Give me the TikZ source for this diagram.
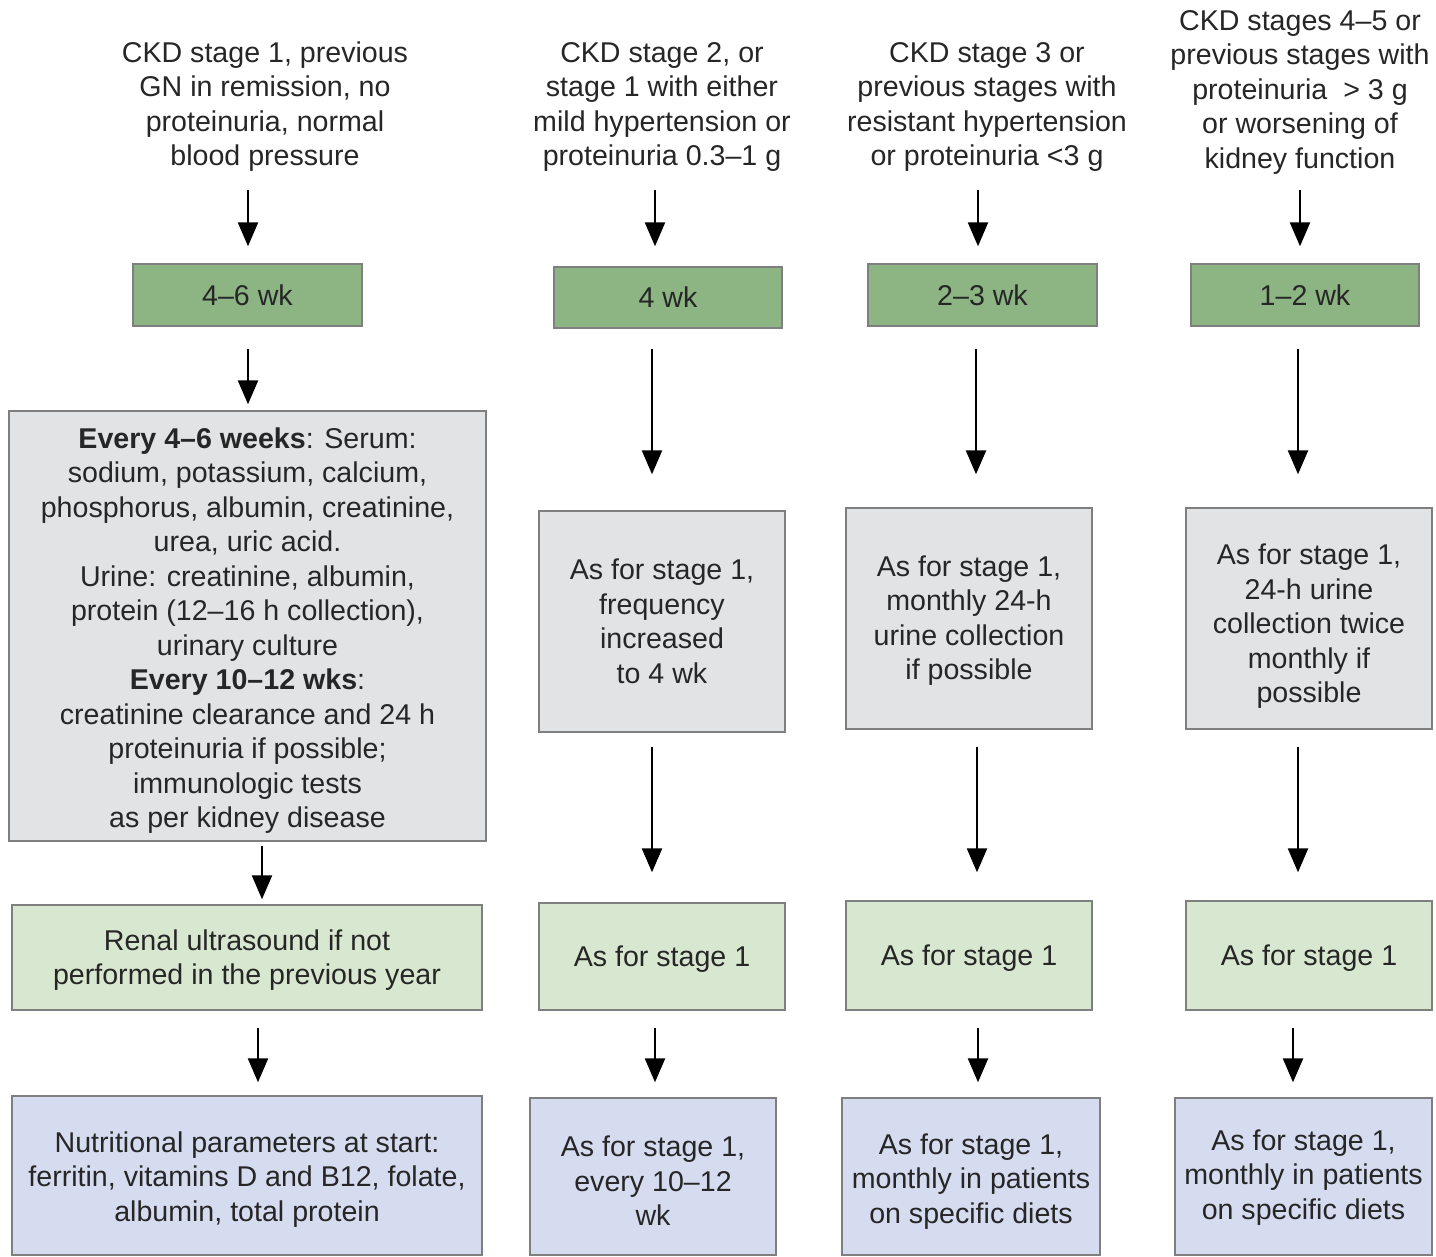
\documentclass[tikz,border=0pt]{standalone}
\usepackage{fontspec}
\setmainfont{Liberation Sans}
\usetikzlibrary{arrows.meta}

\definecolor{ink}{HTML}{262626}
\definecolor{wkgreen}{HTML}{8DB583}
\definecolor{lightgreen}{HTML}{D8E8D0}
\definecolor{testgray}{HTML}{E2E3E5}
\definecolor{nutblue}{HTML}{D5DCF0}
\definecolor{edge}{HTML}{7F7F7F}

% invisible strut that lowers a centred text block a little
\newcommand\lowerby[1]{\rule{0pt}{\dimexpr 10.4pt+#1\relax}}

\tikzset{
  txt/.style={font=\fontsize{14.3pt}{17.25pt}\selectfont, text=ink, align=center, inner sep=0pt},
  box/.style={txt, draw=edge, line width=0.7pt, inner sep=2pt},
  wkbox/.style={box, fill=wkgreen},
  testbox/.style={box, fill=testgray},
  usbox/.style={box, fill=lightgreen},
  nutbox/.style={box, fill=nutblue},
  arr/.style={line width=1.2pt, -{Triangle[width=10pt,length=12pt]}}
}

\begin{document}
\begin{tikzpicture}[x=0.5pt, y=-0.5pt]
  \useasboundingbox (0,0) rectangle (1436,1257);
  \fill[white] (0,0) rectangle (1436,1257);

  % ---------- column 1: stage 1 ----------
  \node[txt] (h1) at (265,106.75) {CKD stage 1, previous\\GN in remission, no\\proteinuria, normal\\blood pressure};
  \node[wkbox, minimum width=114.5pt, minimum height=31pt] (g1) at (247.5,295) {4–6 wk};
  \node[testbox, minimum width=238.5pt, minimum height=215pt] (s1) at (247.5,626)
    {\lowerby{4.5pt}\textbf{Every 4–6 weeks}: Serum:\\sodium, potassium, calcium,\\phosphorus, albumin, creatinine,\\urea, uric acid.\\Urine: creatinine, albumin,\\protein (12–16 h collection),\\urinary culture\\\textbf{Every 10–12 wks}:\\creatinine clearance and 24 h\\proteinuria if possible;\\immunologic tests\\as per kidney disease};
  \node[usbox, minimum width=235pt, minimum height=52.5pt] (u1) at (247,957.5) {\lowerby{2.5pt}Renal ultrasound if not\\performed in the previous year};
  \node[nutbox, minimum width=235pt, minimum height=79.5pt] (n1) at (247,1175.5) {\lowerby{4pt}Nutritional parameters at start:\\ferritin, vitamins D and B12, folate,\\albumin, total protein};

  % ---------- column 2: stage 2 ----------
  \node[txt] (h2) at (662,106.75) {CKD stage 2, or\\stage 1 with either\\mild hypertension or\\proteinuria 0.3–1 g};
  \node[wkbox, minimum width=114pt, minimum height=30.5pt] (g2) at (668,297.5) {4 wk};
  \node[testbox, minimum width=123pt, minimum height=110.5pt] (s2) at (662,621.5) {As for stage 1,\\frequency\\increased\\to 4 wk};
  \node[usbox, minimum width=123pt, minimum height=53.5pt] (u2) at (662,956.5) {\lowerby{3pt}As for stage 1};
  \node[nutbox, minimum width=123pt, minimum height=78.5pt] (n2) at (653,1176.5) {\lowerby{4.5pt}As for stage 1,\\every 10–12\\wk};

  % ---------- column 3: stage 3 ----------
  \node[txt] (h3) at (987,106.75) {CKD stage 3 or\\previous stages with\\resistant hypertension\\or proteinuria <3 g};
  \node[wkbox, minimum width=114.5pt, minimum height=31pt] (g3) at (982.5,295) {2–3 wk};
  \node[testbox, minimum width=123pt, minimum height=110.5pt] (s3) at (969,618.5) {\lowerby{2pt}As for stage 1,\\monthly 24-h\\urine collection\\if possible};
  \node[usbox, minimum width=123pt, minimum height=54.5pt] (u3) at (969,955.5) {\lowerby{3pt}As for stage 1};
  \node[nutbox, minimum width=129pt, minimum height=78.5pt] (n3) at (971,1176.5) {\lowerby{5pt}As for stage 1,\\monthly in patients\\on specific diets};

  % ---------- column 4: stages 4-5 ----------
  \node[txt] (h4) at (1300,92) {CKD stages 4–5 or\\previous stages with\\proteinuria\ \ > 3 g\\or worsening of\\kidney function};
  \node[wkbox, minimum width=114pt, minimum height=31pt] (g4) at (1305,295) {1–2 wk};
  \node[testbox, minimum width=123pt, minimum height=110.5pt] (s4) at (1309,618.5) {\lowerby{8pt}As for stage 1,\\24-h urine\\collection twice\\monthly if\\possible};
  \node[usbox, minimum width=123pt, minimum height=54.5pt] (u4) at (1309,955.5) {\lowerby{3pt}As for stage 1};
  \node[nutbox, minimum width=128.5pt, minimum height=78.5pt] (n4) at (1303.5,1176.5) {\lowerby{1pt}As for stage 1,\\monthly in patients\\on specific diets};

  % ---------- arrows ----------
  \draw[arr] ([shift={(-17,18)}]h1.south) -- ([shift={(0.5,-17)}]g1.north);
  \draw[arr] ([shift={(0.5,22)}]g1.south) -- ([shift={(0.5,-6)}]s1.north);
  \draw[arr] ([shift={(14.5,4)}]s1.south) -- ([shift={(15,-5)}]u1.north);
  \draw[arr] ([shift={(11,17)}]u1.south) -- ([shift={(11,-13)}]n1.north);

  \draw[arr] ([shift={(-7,18)}]h2.south) -- ([shift={(-13,-20)}]g2.north);
  \draw[arr] ([shift={(-16,20)}]g2.south) -- ([shift={(-10,-36)}]s2.north);
  \draw[arr] ([shift={(-10,14)}]s2.south) -- ([shift={(-10,-30)}]u2.north);
  \draw[arr] ([shift={(-7,17)}]u2.south) -- ([shift={(2,-15)}]n2.north);

  \draw[arr] ([shift={(-9,18)}]h3.south) -- ([shift={(-4.5,-17)}]g3.north);
  \draw[arr] ([shift={(-6.5,22)}]g3.south) -- ([shift={(7,-33)}]s3.north);
  \draw[arr] ([shift={(8,17)}]s3.south) -- ([shift={(8,-28)}]u3.north);
  \draw[arr] ([shift={(9,17)}]u3.south) -- ([shift={(7,-15)}]n3.north);

  \draw[arr] ([shift={(0,15.5)}]h4.south) -- ([shift={(-5,-17)}]g4.north);
  \draw[arr] ([shift={(-7,22)}]g4.south) -- ([shift={(-11,-33)}]s4.north);
  \draw[arr] ([shift={(-11,17)}]s4.south) -- ([shift={(-11,-28)}]u4.north);
  \draw[arr] ([shift={(-16,17)}]u4.south) -- ([shift={(-10.5,-15)}]n4.north);
\end{tikzpicture}
\end{document}
